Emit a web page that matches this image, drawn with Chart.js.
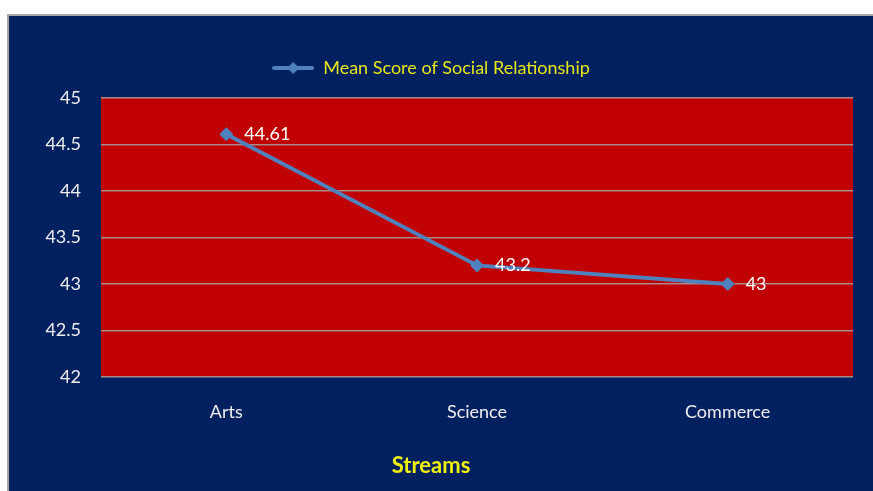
<!DOCTYPE html>
<html>
<head>
<meta charset="utf-8">
<script src="https://cdn.jsdelivr.net/npm/chart.js@4"></script>
<style>
  body { margin: 0; background: #ffffff; }
  #panel {
    position: absolute; left: 7px; top: 14px;
    width: 866px; height: 477px;
    border-left: 2px solid #a6a6a6; border-top: 2px solid #a6a6a6;
    background: #002060;
  }
</style>
</head>
<body>
<div id="panel"><canvas id="scoreChart" width="864" height="475"></canvas></div>
<script>
const streams = ['Arts', 'Science', 'Commerce'];
const meanScores = [44.61, 43.2, 43];
const seriesName = 'Mean Score of Social Relationship';
const axisName = 'Streams';

const lineBlue = '#4f81bd';
const fontFamily = 'Lato, "Noto Sans", sans-serif';

// legend icon: short line with a diamond in the middle
const legendIcon = document.createElement('canvas');
legendIcon.width = 42;
legendIcon.height = 16;
(function () {
    const g = legendIcon.getContext('2d');
    g.strokeStyle = lineBlue;
    g.lineWidth = 4;
    g.lineCap = 'round';
    g.beginPath();
    g.moveTo(2, 8);
    g.lineTo(40, 8);
    g.stroke();
    g.fillStyle = lineBlue;
    g.beginPath();
    g.moveTo(21, 2);
    g.lineTo(27, 8);
    g.lineTo(21, 14);
    g.lineTo(15, 8);
    g.closePath();
    g.fill();
})();

const plotFill = {
    id: 'plotFill',
    beforeDraw(chart) {
        const { ctx, chartArea: a } = chart;
        ctx.save();
        ctx.fillStyle = '#c00000';
        ctx.fillRect(a.left, a.top, a.right - a.left, a.bottom - a.top);
        ctx.restore();
    }
};

const legendGap = {
    id: 'legendGap',
    beforeInit(chart) {
        const fit = chart.legend.fit;
        chart.legend.fit = function () {
            fit.bind(chart.legend)();
            this.height += 11;
        };
    }
};

const valueLabels = {
    id: 'valueLabels',
    afterDatasetsDraw(chart) {
        const { ctx } = chart;
        const meta = chart.getDatasetMeta(0);
        ctx.save();
        ctx.fillStyle = '#ffffff';
        ctx.font = '18px ' + fontFamily;
        ctx.textBaseline = 'middle';
        meta.data.forEach((pt, i) => {
            ctx.fillText(String(meanScores[i]), pt.x + 18, pt.y);
        });
        ctx.restore();
    }
};

new Chart('scoreChart', {
    type: 'line',
    data: {
        labels: streams,
        datasets: [{
            label: seriesName,
            data: meanScores,
            borderColor: lineBlue,
            backgroundColor: lineBlue,
            borderWidth: 4,
            pointStyle: 'rectRot',
            pointRadius: 7,
            pointHoverRadius: 7,
            pointBorderWidth: 0,
            tension: 0
        }]
    },
    options: {
        responsive: false,
        animation: false,
        layout: { padding: { top: 33, right: 20, bottom: 0, left: 0 } },
        plugins: {
            tooltip: { enabled: false },
            title: {
                display: true,
                position: 'bottom',
                text: axisName,
                color: '#eeee10',
                font: { family: fontFamily, size: 22, weight: 'bold' },
                padding: { top: 0, bottom: 12 }
            },
            legend: {
                labels: {
                    color: '#e5e619',
                    font: { family: fontFamily, size: 18 },
                    usePointStyle: true,
                    pointStyleWidth: 42,
                    padding: 10,
                    generateLabels(chart) {
                        return Chart.defaults.plugins.legend.labels.generateLabels(chart)
                            .map(item => Object.assign(item, { pointStyle: legendIcon }));
                    }
                }
            }
        },
        scales: {
            x: {
                offset: true,
                grid: { display: false, drawTicks: false },
                border: { display: false },
                ticks: { color: '#eeeeee', font: { family: fontFamily, size: 18 }, padding: 24 },
                afterFit(scale) { scale.height = 75.6; }
            },
            y: {
                min: 42,
                max: 45,
                ticks: {
                    stepSize: 0.5,
                    color: '#eeeeee',
                    font: { family: fontFamily, size: 18 },
                    padding: 20,
                    callback: v => String(v)
                },
                grid: { color: '#a88a8a', lineWidth: 1.5, drawTicks: false },
                border: { display: false },
                afterFit(scale) { scale.width = 92; }
            }
        }
    },
    plugins: [plotFill, legendGap, valueLabels]
});
</script>
</body>
</html>
